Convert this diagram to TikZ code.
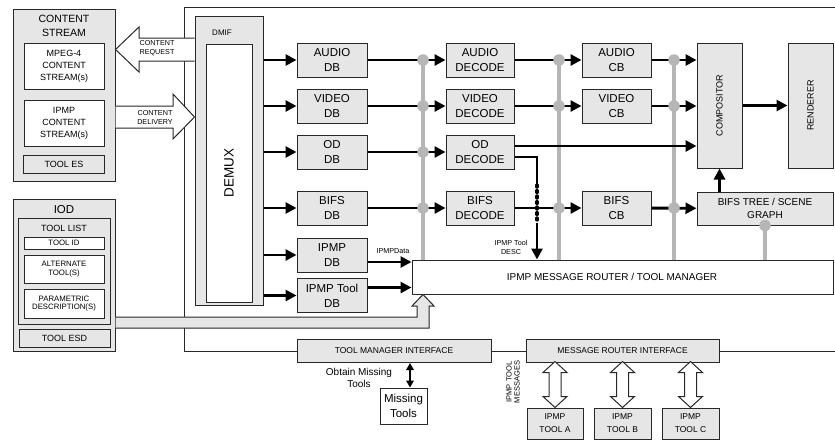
\documentclass[tikz,border=0pt]{standalone}
\usepackage{fontspec}
\setmainfont{Liberation Sans}
\usetikzlibrary{arrows.meta,calc}
\definecolor{boxgray}{RGB}{230,230,231}
\definecolor{busgray}{RGB}{182,182,184}
\definecolor{edge}{RGB}{40,40,40}
\newcommand{\fsz}[2]{\fontsize{#1}{#2}\selectfont}
\tikzset{
	blk/.style={draw=edge, fill=boxgray, line width=1pt, inner sep=0pt, align=center, font=\fsz{11.5}{15}},
	wblk/.style={blk, fill=white},
	lbl/.style={inner sep=0pt, align=center},
	arr/.style={line width=2.9pt, -{Triangle[length=11pt,width=11pt]}},
	frame/.style={draw=edge, line width=1pt},
	hollow/.style={draw=edge, line width=1pt, line join=miter},
	bus/.style={draw=busgray, line width=3.8pt},
	joint/.style={circle, fill=busgray, inner sep=0pt, minimum size=11.5pt},
	dbbox/.style={blk, minimum width=70pt, minimum height=34pt},
	decbox/.style={blk, minimum width=68pt, minimum height=34pt},
	cbbox/.style={blk, minimum width=69pt, minimum height=34pt},
	toolbox/.style={blk, minimum width=57pt, minimum height=31pt, font=\fsz{8.5}{13}},
}

\begin{document}
\begin{tikzpicture}[x=1pt,y=-1pt]
	\useasboundingbox (0,0) rectangle (835,442);

	% Content stream
	\node[blk, minimum width=102pt, minimum height=172pt] (cs) at (64,95) {};
	\node[lbl, font=\fsz{10.5}{14}] (cstitle) at (64,26) {CONTENT\\STREAM};
	\node[wblk, minimum width=80pt, minimum height=46pt, font=\fsz{9}{12}] (mp4) at (64,66) {MPEG-4\\CONTENT\\STREAM(s)};
	\node[wblk, minimum width=80pt, minimum height=46pt, font=\fsz{9}{12}] (ipcs) at (64,123) {IPMP\\CONTENT\\STREAM(s)};
	\node[blk, minimum width=81pt, minimum height=18pt, font=\fsz{9}{11}] (toles) at (64,164) {TOOL ES};

	% IOD
	\node[blk, minimum width=102pt, minimum height=152pt] (iod) at (64,275) {};
	\node[lbl, font=\fsz{11.5}{13}] (iodtxt) at (64,210) {IOD};
	\node[blk, minimum width=92pt, minimum height=106pt] (tlist) at (64,271) {};
	\node[lbl, font=\fsz{9}{11}] (tlisttxt) at (64,228) {TOOL LIST};
	\node[wblk, minimum width=80pt, minimum height=12pt, font=\fsz{7.8}{9}] (tid) at (64,243) {TOOL ID};
	\node[wblk, minimum width=80pt, minimum height=28pt, font=\fsz{7.8}{8.8}] (talt) at (64,269) {ALTERNATE\\TOOL(S)};
	\node[wblk, minimum width=80pt, minimum height=29pt, font=\fsz{7.8}{8.3}] (tpar) at (64,303.5) {PARAMETRIC\\DESCRIPTION(S)};
	\node[blk, minimum width=91pt, minimum height=18pt, font=\fsz{9}{11}] (tesd) at (64.5,338) {TOOL ESD};

	% Interfaces on the lower edge
	\node[blk, minimum width=194pt, minimum height=23pt, font=\fsz{8.5}{10}] (tmi) at (394,351) {TOOL MANAGER INTERFACE};
	\node[blk, minimum width=193pt, minimum height=23pt, font=\fsz{8.5}{10}] (mri) at (622.5,351) {MESSAGE ROUTER INTERFACE};

	% Terminal frame
	\draw[frame] (835,7) -- (184,7) -- (184,0 |- tmi.west) -- (tmi.west);
	\draw[frame] (tmi.east) -- (mri.west);
	\draw[frame] (mri.east) -- (835,0 |- mri.east);

	% DMIF
	\node[blk, minimum width=68pt, minimum height=289pt] (dmif) at (229,160.5) {};
	\node[lbl, font=\fsz{8}{10}] (dmiftxt) at (222,33) {DMIF};
	\node[wblk, minimum width=46pt, minimum height=258pt] (demux) at (229,173) {};
	\node[lbl, rotate=90, font=\fsz{13.5}{15}] (demuxtxt) at (demux) {DEMUX};

	% Content request / delivery
	\draw[hollow, fill=white] (dmif.west |- 0,38) -- (139,38) -- (139,27) -- (cs.east |- 0,49.5)
		-- (139,72) -- (139,61) -- (dmif.west |- 0,61);
	\node[lbl, font=\fsz{7.2}{9.5}] (creq) at (157,48) {CONTENT\\REQUEST};
	\draw[hollow, fill=white] (cs.east |- 0,106) -- (173,106) -- (173,94) -- (dmif.west |- 0,117)
		-- (173,139) -- (173,128) -- (cs.east |- 0,128);
	\node[lbl, font=\fsz{7.2}{9.5}] (cdel) at (155,117.5) {CONTENT\\DELIVERY};

	% Decoding buffers
	\node[dbbox] (adb) at (332,60) {AUDIO\\DB};
	\node[dbbox] (vdb) at (332,106) {VIDEO\\DB};
	\node[dbbox] (odb) at (332,152) {OD\\DB};
	\node[dbbox] (bdb) at (332,208) {BIFS\\DB};
	\node[dbbox] (idb) at (332,255) {IPMP\\DB};
	\node[dbbox] (itdb) at (332,295.5) {IPMP Tool\\DB};

	% Decoders
	\node[decbox] (adec) at (480,60) {AUDIO\\DECODE};
	\node[decbox] (vdec) at (480,106) {VIDEO\\DECODE};
	\node[decbox] (odec) at (480,152) {OD\\DECODE};
	\node[decbox] (bdec) at (480,208) {BIFS\\DECODE};

	% Composition buffers
	\node[cbbox] (acb) at (616.5,60) {AUDIO\\CB};
	\node[cbbox] (vcb) at (616.5,106) {VIDEO\\CB};
	\node[cbbox] (bcb) at (616.5,208) {BIFS\\CB};

	\node[blk, minimum width=45pt, minimum height=125pt] (comp) at (719.5,105.5) {};
	\node[lbl, rotate=90, font=\fsz{9}{10}] (comptxt) at (comp) {COMPOSITOR};
	\node[blk, minimum width=45pt, minimum height=125pt] (rend) at (810.5,105.5) {};
	\node[lbl, rotate=90, font=\fsz{9}{10}] (rendtxt) at (rend) {RENDERER};
	\node[blk, minimum width=136pt, minimum height=33pt, font=\fsz{10}{13}] (btree) at (765,208.5) {BIFS TREE / SCENE\\GRAPH};

	\node[wblk, minimum width=421pt, minimum height=34pt] (router) at (622.5,277) {};
	\node[lbl, font=\fsz{10}{12}] (routertxt) at (612,277) {IPMP MESSAGE ROUTER / TOOL MANAGER};

	% Control buses
	\coordinate (b1) at (423,60);
	\coordinate (b2) at (559,60);
	\coordinate (b3) at (674,60);
	\foreach \b in {b1,b2,b3}
		\draw[bus] (\b) -- (\b |- router.north);
	\draw[bus] (btree.south) -- (btree.south |- router.north);

	% Data paths
	\foreach \n in {adb,vdb,odb,bdb,idb,itdb}
		\draw[arr] (dmif.east |- \n) -- (\n.west);
	\foreach \a/\b in {adb/adec,vdb/vdec,odb/odec,bdb/bdec,adec/acb,vdec/vcb,bdec/bcb,bcb/btree,comp/rend}
		\draw[arr] (\a) -- (\b);
	\draw[arr] (acb) -- (acb -| comp.west);
	\draw[arr] (vcb) -- (vcb -| comp.west);
	\draw[arr] (comp.south |- btree.north) -- (comp.south);

	\coordinate (odA) at ([yshift=6pt]odec.east);
	\coordinate (odB) at ([yshift=-5pt]odec.east);
	\draw[arr] (odA) -- (odA -| comp.west);
	\coordinate (dsc1) at (537,185);
	\coordinate (dsc2) at (537,223);
	\draw[line width=2.9pt] (odB) -| (dsc1);
	\draw[line width=3.2pt, line cap=round, dash pattern=on 2pt off 3.5pt] (dsc1) -- (dsc2);
	\draw[arr] (dsc2) -- (dsc2 |- router.north);
	\node[lbl, font=\fsz{7.2}{9}] (desc) at (511,247.5) {IPMP Tool\\DESC};

	\coordinate (ipd) at ([yshift=-7pt]idb.east);
	\draw[arr] (ipd) -- (ipd -| router.west);
	\node[lbl, font=\fsz{7.2}{9}] (ipdtxt) at (393,251) {IPMPData};
	\coordinate (iptd) at ([yshift=8pt]itdb.east);
	\draw[arr] (iptd) -- (iptd -| router.west);

	% Joints
	\foreach \r in {adb,vdb,odb,bdb}
		\node[joint] (j1-\r) at (b1 |- \r) {};
	\foreach \r in {adec,vdec,bdec}
		\node[joint] (j2-\r) at (b2 |- \r) {};
	\foreach \r in {acb,vcb,bcb}
		\node[joint] (j3-\r) at (b3 |- \r) {};
	\node[joint] (j4) at (btree.south) {};

	% IOD feed
	\draw[hollow, fill=boxgray] (iod.east |- 0,317) -- (417,317) -- (417,306) -- (412,306)
		-- (b1 |- router.south) -- (434,306) -- (429,306) -- (429,328) -- (iod.east |- 0,328);

	% Missing tools
	\node[wblk, minimum width=47pt, minimum height=36pt] (miss) at (403.5,406) {Missing\\Tools};
	\draw[line width=1.6pt, {Triangle[length=7pt,width=7.5pt]}-{Triangle[length=7pt,width=7.5pt]}]
		(tmi.south -| 410,0) -- (miss.north -| 410,0);
	\node[lbl, font=\fsz{10}{12}] (obtain) at (359,378) {Obtain Missing\\Tools};

	% IPMP tools
	\node[toolbox, minimum width=56pt] (ta) at (555,423.5) {IPMP\\TOOL A};
	\node[toolbox] (tb) at (622.5,423.5) {IPMP\\TOOL B};
	\node[toolbox] (tc) at (690.5,423.5) {IPMP\\TOOL C};
	\foreach \t in {ta,tb,tc}
		\draw[hollow, fill=white] (\t.north) -- ++(-12,-11) -- ++(6,0) -- ++(0,-24) -- ++(-6,0)
			-- ++(12,-11) -- ++(12,11) -- ++(-6,0) -- ++(0,24) -- ++(6,0) -- cycle;
	\node[lbl, rotate=90, font=\fsz{7.5}{8}] (msgs) at (513,382) {IPMP TOOL\\MESSAGES};
\end{tikzpicture}
\end{document}
